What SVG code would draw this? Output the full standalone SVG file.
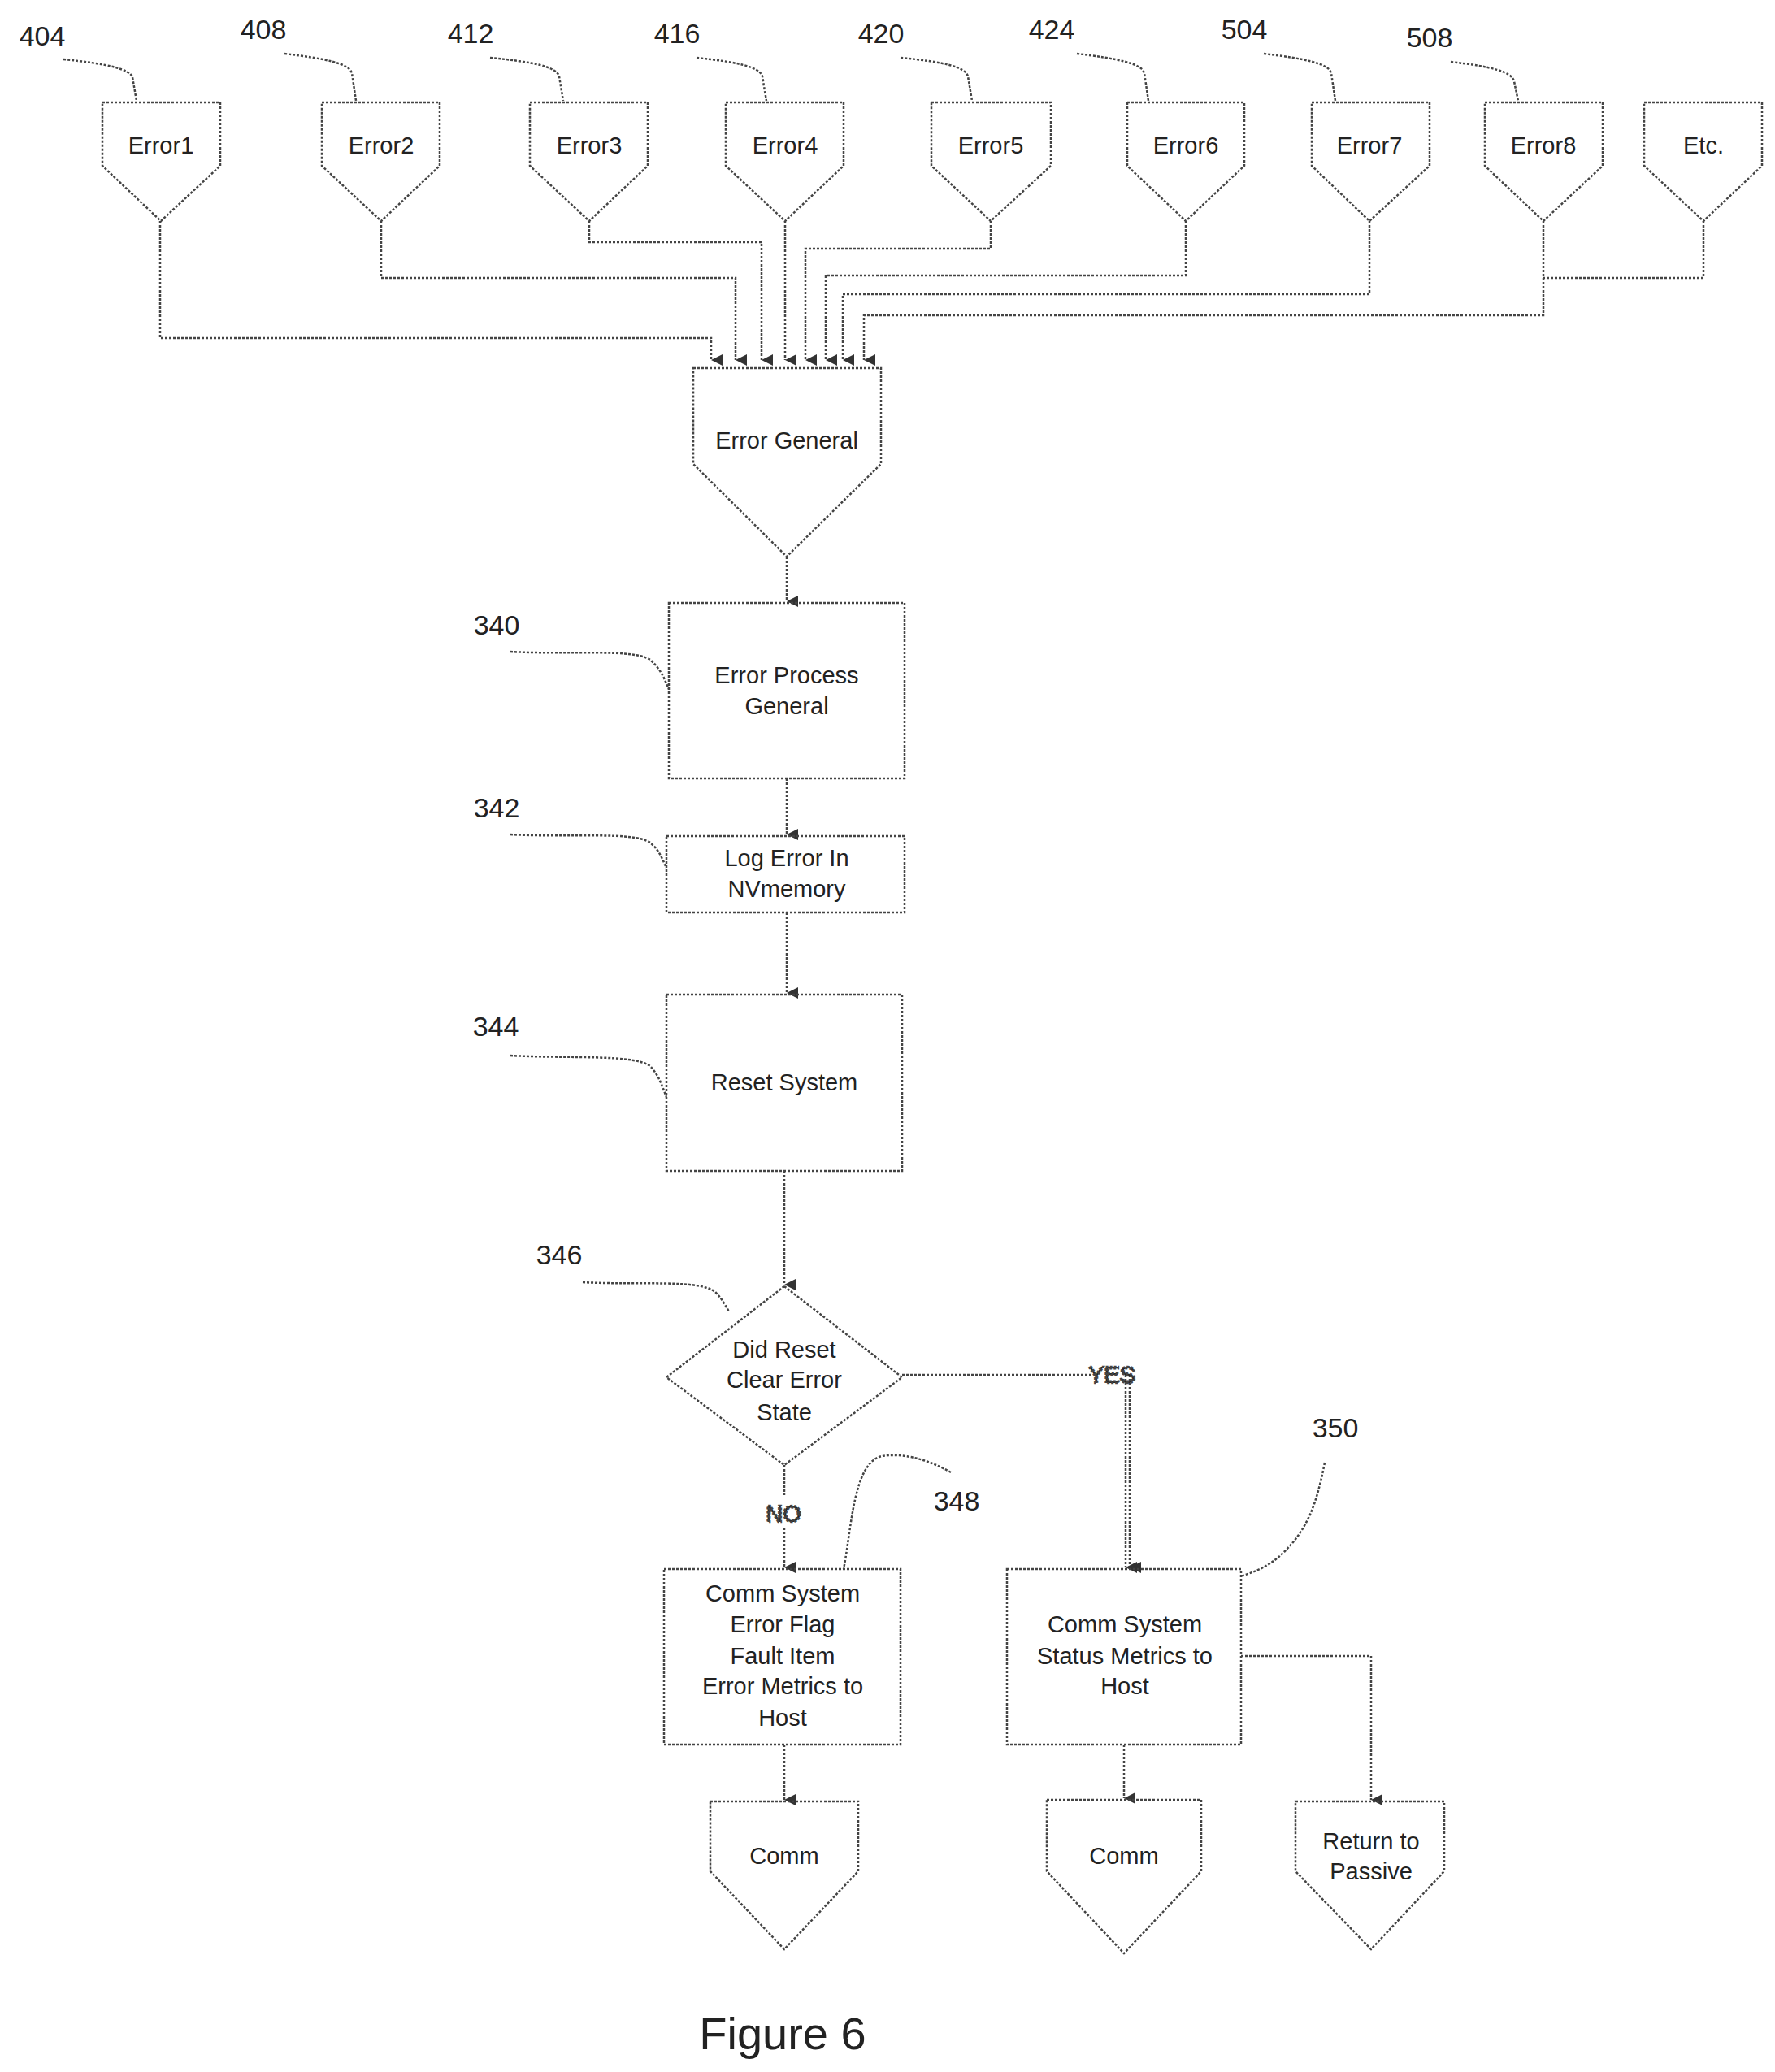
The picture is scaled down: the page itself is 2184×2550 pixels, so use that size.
<svg xmlns="http://www.w3.org/2000/svg" width="2184" height="2550" viewBox="0 0 2184 2550">
<style>
.s{fill:none;stroke:#444;stroke-width:2.5;stroke-dasharray:3 2}
.t{font-family:"Liberation Sans",Arial,sans-serif;font-size:29px;fill:#222;text-anchor:middle}
.n{font-family:"Liberation Sans",Arial,sans-serif;font-size:34px;fill:#222;text-anchor:middle}
</style>
<defs>
<marker id="a" viewBox="0 0 10 10" refX="5" refY="10" markerWidth="14" markerHeight="14" orient="auto-start-reverse" markerUnits="userSpaceOnUse">
<path d="M0,0 L5,10 L10,0 Z" fill="#333"/>
</marker>
</defs>
<rect width="2184" height="2550" fill="#fff"/>
<g id="leaders" class="s">
<path d="M78,73 C130,78 160,85 163,95 L168,124"/>
<path d="M350,66 C400,72 430,78 433,90 L438,124"/>
<path d="M603,71 C655,76 685,82 688,94 L693,124"/>
<path d="M857,71 C905,76 935,82 938,94 L943,124"/>
<path d="M1108,71 C1160,76 1188,82 1191,94 L1196,124"/>
<path d="M1325,66 C1375,72 1405,78 1408,90 L1413,124"/>
<path d="M1555,66 C1605,72 1635,78 1638,90 L1643,124"/>
<path d="M1785,76 C1835,82 1860,88 1863,100 L1868,124"/>
<path d="M628,802 C700,806 780,798 800,812 C815,825 818,838 823,848"/>
<path d="M628,1027 C700,1031 780,1023 800,1037 C812,1047 815,1058 820,1068"/>
<path d="M628,1299 C700,1303 780,1297 800,1312 C812,1325 815,1338 820,1350"/>
<path d="M717,1578 C790,1582 860,1574 880,1590 C890,1600 893,1608 897,1614"/>
<path d="M1170,1812 C1140,1795 1110,1788 1085,1792 C1050,1800 1048,1880 1038,1931"/>
<path d="M1630,1800 C1620,1850 1610,1880 1580,1910 C1560,1930 1540,1935 1527,1940"/>
</g>
<g id="connectors" class="s">
<path d="M197,272 V416 H875 V443" marker-end="url(#a)"/>
<path d="M469,272 V342 H905 V443" marker-end="url(#a)"/>
<path d="M725,272 V298 H937 V443" marker-end="url(#a)"/>
<path d="M966,272 V443" marker-end="url(#a)"/>
<path d="M1219,272 V306 H991 V443" marker-end="url(#a)"/>
<path d="M1459,272 V339 H1016 V443" marker-end="url(#a)"/>
<path d="M1685,272 V362 H1037 V443" marker-end="url(#a)"/>
<path d="M1899,272 V388 H1063 V443" marker-end="url(#a)"/>
<path d="M2096,272 V342 H1899"/>
<path d="M968,685 V740" marker-end="url(#a)"/>
<path d="M968,958 V1027" marker-end="url(#a)"/>
<path d="M968,1123 V1222" marker-end="url(#a)"/>
<path d="M965,1441 V1581" marker-end="url(#a)"/>
<path d="M1110,1692 H1345 M1390,1692 V1929" marker-end="url(#a)"/>
<path d="M1385,1692 V1929" marker-end="url(#a)"/>
<path d="M965,1803 V1840 M965,1880 V1929" marker-end="url(#a)"/>
<path d="M965,2147 V2215" marker-end="url(#a)"/>
<path d="M1383,2147 V2213" marker-end="url(#a)"/>
<path d="M1527,2038 H1687 V2215" marker-end="url(#a)"/>
<text class="t" x="1368" y="1702">YES</text>
<text class="t" x="964" y="1873">NO</text>
</g>
<g id="e1"><path class="s" d="M126,126 H271 V204 L198,272 L126,204 Z"/><text class="t" x="198" y="189">Error1</text></g>
<g id="e2"><path class="s" d="M396,126 H541 V204 L469,272 L396,204 Z"/><text class="t" x="469" y="189">Error2</text></g>
<g id="e3"><path class="s" d="M652,126 H797 V204 L725,272 L652,204 Z"/><text class="t" x="725" y="189">Error3</text></g>
<g id="e4"><path class="s" d="M893,126 H1038 V204 L966,272 L893,204 Z"/><text class="t" x="966" y="189">Error4</text></g>
<g id="e5"><path class="s" d="M1146,126 H1293 V204 L1219,272 L1146,204 Z"/><text class="t" x="1219" y="189">Error5</text></g>
<g id="e6"><path class="s" d="M1387,126 H1531 V204 L1459,272 L1387,204 Z"/><text class="t" x="1459" y="189">Error6</text></g>
<g id="e7"><path class="s" d="M1614,126 H1759 V204 L1685,272 L1614,204 Z"/><text class="t" x="1685" y="189">Error7</text></g>
<g id="e8"><path class="s" d="M1827,126 H1972 V204 L1899,272 L1827,204 Z"/><text class="t" x="1899" y="189">Error8</text></g>
<g id="etc"><path class="s" d="M2023,126 H2168 V204 L2096,272 L2023,204 Z"/><text class="t" x="2096" y="189">Etc.</text></g>
<g id="labels">
<text class="n" x="52" y="56">404</text><text class="n" x="324" y="48">408</text><text class="n" x="579" y="53">412</text><text class="n" x="833" y="53">416</text>
<text class="n" x="1084" y="53">420</text><text class="n" x="1294" y="48">424</text><text class="n" x="1531" y="48">504</text><text class="n" x="1759" y="58">508</text>
<text class="n" x="611" y="781">340</text><text class="n" x="611" y="1006">342</text><text class="n" x="610" y="1275">344</text><text class="n" x="688" y="1556">346</text>
<text class="n" x="1177" y="1859">348</text><text class="n" x="1643" y="1769">350</text>
</g>
<g id="general"><path class="s" d="M853,453 H1084 V571 L968,685 L853,571 Z"/><text class="t" x="968" y="552">Error General</text></g>
<g id="n340"><rect class="s" x="823" y="742" width="290" height="216"/><text class="t" x="968" y="841">Error  Process</text><text class="t" x="968" y="879">General</text></g>
<g id="n342"><rect class="s" x="820" y="1029" width="293" height="94"/><text class="t" x="968" y="1066">Log Error In</text><text class="t" x="968" y="1104">NVmemory</text></g>
<g id="n344"><rect class="s" x="820" y="1224" width="290" height="217"/><text class="t" x="965" y="1342">Reset System</text></g>
<g id="n346"><path class="s" d="M965,1583 L1110,1695 L965,1803 L820,1695 Z"/><text class="t" x="965" y="1671">Did Reset</text><text class="t" x="965" y="1708">Clear Error</text><text class="t" x="965" y="1748">State</text></g>
<g id="n348"><rect class="s" x="817" y="1931" width="291" height="216"/>
<text class="t" x="963" y="1971">Comm System</text><text class="t" x="963" y="2009">Error  Flag</text><text class="t" x="963" y="2048">Fault Item</text><text class="t" x="963" y="2085">Error Metrics to</text><text class="t" x="963" y="2124">Host</text></g>
<g id="n350"><rect class="s" x="1239" y="1931" width="288" height="216"/>
<text class="t" x="1384" y="2009">Comm System</text><text class="t" x="1384" y="2048">Status Metrics to</text><text class="t" x="1384" y="2085">Host</text></g>
<g id="comm1"><path class="s" d="M874,2217 H1056 V2303 L965,2399 L874,2303 Z"/><text class="t" x="965" y="2294">Comm</text></g>
<g id="comm2"><path class="s" d="M1288,2215 H1478 V2303 L1383,2404 L1288,2303 Z"/><text class="t" x="1383" y="2294">Comm</text></g>
<g id="ret"><path class="s" d="M1594,2217 H1777 V2303 L1687,2399 L1594,2303 Z"/><text class="t" x="1687" y="2276">Return to</text><text class="t" x="1687" y="2313">Passive</text></g>
<text x="963" y="2522" font-family="Liberation Sans,Arial,sans-serif" font-size="56" fill="#222" text-anchor="middle">Figure 6</text>
</svg>
